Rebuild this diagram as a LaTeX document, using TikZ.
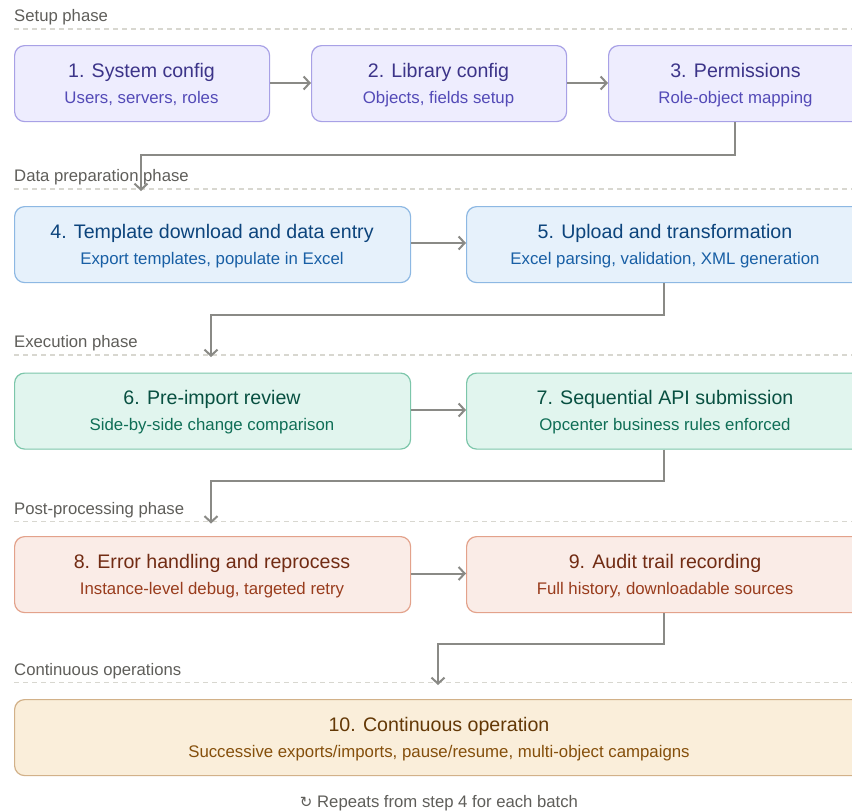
\documentclass[tikz,border=0pt]{standalone}
\usepackage{fontspec}
\setmainfont{Liberation Sans}
\newfontfamily\symfont{DejaVu Sans}
\usetikzlibrary{arrows.meta}
\definecolor{pfill}{HTML}{EEEDFE}\definecolor{pdraw}{HTML}{A8A1E6}\definecolor{ptitle}{HTML}{3C3489}\definecolor{psub}{HTML}{534AB7}
\definecolor{bfill}{HTML}{E6F1FB}\definecolor{bdraw}{HTML}{8DB8E3}\definecolor{btitle}{HTML}{0C447C}\definecolor{bsub}{HTML}{185FA5}
\definecolor{gfill}{HTML}{E1F5EE}\definecolor{gdraw}{HTML}{7CC6AA}\definecolor{gtitle}{HTML}{085041}\definecolor{gsub}{HTML}{0F6E56}
\definecolor{cfill}{HTML}{FAECE7}\definecolor{cdraw}{HTML}{E3A28B}\definecolor{ctitle}{HTML}{712B13}\definecolor{csub}{HTML}{993C1D}
\definecolor{afill}{HTML}{FAEEDA}\definecolor{adraw}{HTML}{D2B189}\definecolor{atitle}{HTML}{633806}\definecolor{asub}{HTML}{854F0B}
\definecolor{labelgray}{HTML}{5F5E5A}
\definecolor{arrowgray}{HTML}{8A8A86}
\definecolor{dashgray}{HTML}{D8D7D0}
\tikzset{
  x=1pt, y=-1pt,
  stepbox/.style={draw, rounded corners=10pt, line width=1.2pt, inner sep=0pt, anchor=north west, minimum height=76pt},
  narrowbox/.style={stepbox, minimum width=255pt},
  widebox/.style={stepbox, minimum width=396pt},
  purplebox/.style={narrowbox, fill=pfill, draw=pdraw},
  bluebox/.style={widebox, fill=bfill, draw=bdraw},
  greenbox/.style={widebox, fill=gfill, draw=gdraw},
  coralbox/.style={widebox, fill=cfill, draw=cdraw},
  amberbox/.style={stepbox, minimum width=850pt, fill=afill, draw=adraw},
  titletext/.style={font=\fontsize{19.6}{23}\selectfont, anchor=base, inner sep=0pt},
  subtext/.style={font=\fontsize{16.8}{20}\selectfont, anchor=base, inner sep=0pt},
  phasetext/.style={font=\fontsize{16.7}{20}\selectfont, text=labelgray, anchor=base west, inner sep=0pt},
  phaseline/.style={draw=dashgray, line width=1.2pt, dash pattern=on 5pt off 4pt},
  conn/.style={draw=arrowgray, line width=2pt, -{Straight Barb[length=6pt,width=13pt]}},
}
\begin{document}
\begin{tikzpicture}
\useasboundingbox (0,0) rectangle (852,811);
\clip (0,0) rectangle (852,811);
\fill[white] (0,0) rectangle (852,811);

% phase labels and separators
\node[phasetext] (ph1) at (14,21) {Setup phase};
\draw[phaseline] (14,29) -- (852,29);
\node[phasetext] (ph2) at (14,181.5) {Data preparation phase};
\draw[phaseline] (14,189) -- (852,189);
\node[phasetext] (ph3) at (14,347.5) {Execution phase};
\draw[phaseline] (14,355) -- (852,355);
\node[phasetext] (ph4) at (14,514) {Post-processing phase};
\draw[phaseline] (14,521.5) -- (852,521.5);
\node[phasetext] (ph5) at (14,675) {Continuous operations};
\draw[phaseline] (14,682.5) -- (852,682.5);

% setup boxes
\node[purplebox] (b1) at (14,45) {};
\node[purplebox] (b2) at (311,45) {};
\node[purplebox] (b3) at (608,45) {};
\node[titletext, text=ptitle] (b1t) at (141.5,77) {1. System config};
\node[subtext, text=psub] (b1s) at (141.5,103) {Users, servers, roles};
\node[titletext, text=ptitle] (b2t) at (438.5,77) {2. Library config};
\node[subtext, text=psub] (b2s) at (438.5,103) {Objects, fields setup};
\node[titletext, text=ptitle] (b3t) at (735.5,77) {3. Permissions};
\node[subtext, text=psub] (b3s) at (735.5,103) {Role-object mapping};

% data preparation
\node[bluebox] (b4) at (14,206) {};
\node[bluebox, minimum width=398pt] (b5) at (466,206) {};
\node[titletext, text=btitle] (b4t) at (212,238) {4. Template download and data entry};
\node[subtext, text=bsub] (b4s) at (212,264) {Export templates, populate in Excel};
\node[titletext, text=btitle] (b5t) at (665,238) {5. Upload and transformation};
\node[subtext, text=bsub] (b5s) at (665,264) {Excel parsing, validation, XML generation};

% execution
\node[greenbox] (b6) at (14,372.5) {};
\node[greenbox, minimum width=398pt] (b7) at (466,372.5) {};
\node[titletext, text=gtitle] (b6t) at (212,404.5) {6. Pre-import review};
\node[subtext, text=gsub] (b6s) at (212,430.5) {Side-by-side change comparison};
\node[titletext, text=gtitle] (b7t) at (665,404.5) {7. Sequential API submission};
\node[subtext, text=gsub] (b7s) at (665,430.5) {Opcenter business rules enforced};

% post-processing
\node[coralbox] (b8) at (14,536) {};
\node[coralbox, minimum width=398pt] (b9) at (466,536) {};
\node[titletext, text=ctitle] (b8t) at (212,568) {8. Error handling and reprocess};
\node[subtext, text=csub] (b8s) at (212,594) {Instance-level debug, targeted retry};
\node[titletext, text=ctitle] (b9t) at (665,568) {9. Audit trail recording};
\node[subtext, text=csub] (b9s) at (665,594) {Full history, downloadable sources};

% continuous
\node[amberbox] (b10) at (14,699) {};
\node[titletext, text=atitle] (b10t) at (439,731) {10. Continuous operation};
\node[subtext, text=asub] (b10s) at (439,757) {Successive exports/imports, pause/resume, multi-object campaigns};

% footer
\node[phasetext, anchor=base] (foot) at (439,807.5) {{\symfont\fontsize{15}{18}\selectfont ↻} Repeats from step 4 for each batch};

% connector end points
\coordinate (e4) at (141,191);
\coordinate (e6) at (211,357);
\coordinate (e8) at (211,523.5);
\coordinate (e10) at (438,685);

% connectors
\draw[conn] (b1.east |- 0,83) -- (b2.west |- 0,83);
\draw[conn] (b2.east |- 0,83) -- (b3.west |- 0,83);
\draw[conn] (b3.south west) ++(127,0) -- ++(0,33) -| (e4);
\draw[conn] (b4.east |- 0,243) -- (b5.west |- 0,243);
\draw[conn] (b5.south west) ++(198,0) -- (664,315) -| (e6);
\draw[conn] (b6.east |- 0,410) -- (b7.west |- 0,410);
\draw[conn] (b7.south west) ++(198,0) -- (664,481) -| (e8);
\draw[conn] (b8.east |- 0,573.5) -- (b9.west |- 0,573.5);
\draw[conn] (b9.south west) ++(198,0) -- (664,644) -| (e10);
\end{tikzpicture}
\end{document}
